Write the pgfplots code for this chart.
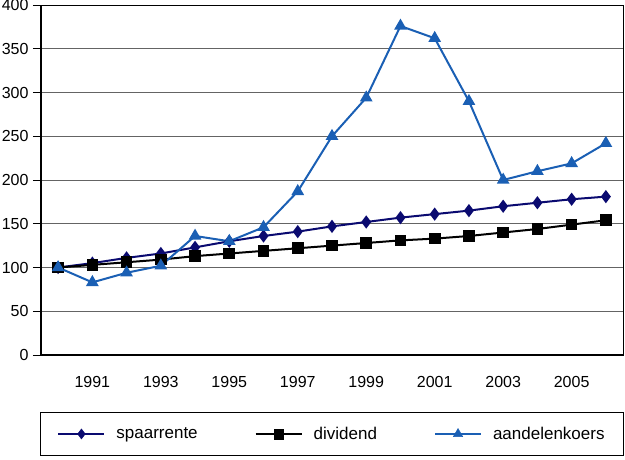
\documentclass[border=0pt]{standalone}
\usepackage{pgfplots}
\pgfplotsset{compat=1.18}
\usepackage{fontspec}
\setmainfont{Liberation Sans}
\definecolor{navyc}{RGB}{10,10,112}
\definecolor{bluec}{RGB}{26,95,180}
\definecolor{gridc}{RGB}{100,100,100}
\begin{document}
\begin{tikzpicture}[x=1pt,y=1pt]
\useasboundingbox (0,0) rectangle (625,459);
\begin{axis}[
  at={(41pt,104pt)}, anchor=south west,
  scale only axis, width=582pt, height=350pt,
  xmin=-0.5, xmax=16.5, ymin=0, ymax=400,
  ytick={0,50,...,400},
  ymajorgrids, major grid style={gridc, line width=1pt},
  xtick={1,3,...,15},
  xticklabels={1991,1993,1995,1997,1999,2001,2003,2005},
  minor xtick={-0.5,0.5,...,16.5},
  xtick style={draw=none},
  minor tick length=8pt, major tick length=8pt,
  minor x tick style={black, line width=1pt},
  ytick style={black, line width=1pt},
  tick align=outside, tick pos=left,
  axis line style={line width=1pt},
  every tick label/.style={font=\fontsize{16}{18}\selectfont},
  /pgf/number format/assume math mode=true,
  xticklabel style={yshift=-10pt},
  yticklabel style={xshift=-1pt},
  clip=false,
  legend columns=3,
  legend style={at={(0.5,-0.163)}, anchor=north, draw=black, line width=1pt,
    font=\fontsize{17}{19}\selectfont, inner xsep=17pt, inner ysep=12.5pt,
    /tikz/every even column/.append style={column sep=55pt},
    /tikz/every odd column/.append style={column sep=9pt},
    legend cell align=left},
  legend image code/.code={
    \draw[#1, mark=none, line width=2pt] (0pt,0pt) -- (46pt,0pt);
    \draw[#1, line width=0.5pt] plot coordinates {(23pt,0pt)};
  },
]
\draw[black, line width=2pt] (axis cs:-0.5,0) -- (axis cs:-0.5,400);
\draw[black, line width=2pt] (axis cs:-0.5,0) -- (axis cs:16.5,0);
\addplot[navyc, line width=2pt, mark=diamond*, mark options={scale=2.5, navyc}] coordinates {
(0,100)(1,105)(2,111)(3,116)(4,123)(5,130)(6,136)(7,141)(8,147)(9,152)(10,157)(11,161)(12,165)(13,170)(14,174)(15,178)(16,181)};
\addlegendentry{spaarrente}
\addplot[black, line width=2pt, mark=square*, mark options={scale=2.4, black}] coordinates {
(0,100)(1,103)(2,106)(3,109)(4,113)(5,116)(6,119)(7,122)(8,125)(9,128)(10,131)(11,133)(12,136)(13,140)(14,144)(15,149)(16,154)};
\addlegendentry{dividend}
\addplot[bluec, line width=2pt, mark=triangle*, mark options={scale=2.7, bluec}] coordinates {
(0,100)(1,83)(2,94)(3,102)(4,136)(5,130)(6,146)(7,187)(8,250)(9,294)(10,376)(11,362)(12,290)(13,200)(14,210)(15,219)(16,242)};
\addlegendentry{aandelenkoers}
\end{axis}
\end{tikzpicture}
\end{document}
